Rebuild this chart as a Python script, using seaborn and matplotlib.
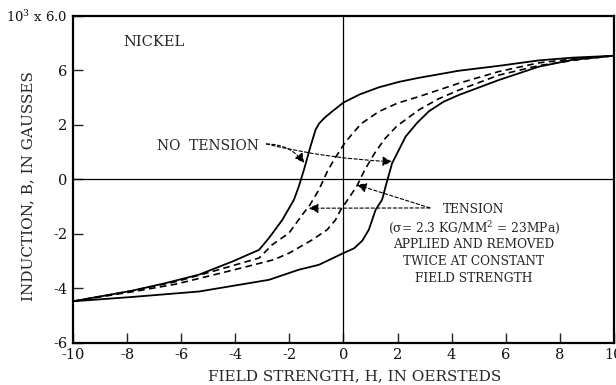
import matplotlib
matplotlib.use("Agg")
import matplotlib.pyplot as plt
import seaborn as sns

# --- digitised hysteresis loops for nickel (H in oersteds, B in axis units) ---
# outer loop, descending branch (solid)
h_outer_down = [-10, -7.81, -6.57, -5.34, -4.11, -3.12, -2.75, -2.26, -1.83, -1.65,
                -1.46, -1.20, -1.03, -0.90, -0.70, -0.41, 0, 0.6, 1.31, 2.05,
                2.79, 4.27, 5.75, 7.23, 8.46, 10]
b_outer_down = [-4.48, -4.09, -3.81, -3.50, -3.02, -2.59, -2.15, -1.49, -0.75, -0.26,
                0.35, 1.27, 1.82, 2.05, 2.26, 2.50, 2.82, 3.12, 3.38, 3.58,
                3.73, 3.99, 4.17, 4.37, 4.47, 4.54]

# outer loop, ascending branch (solid)
h_outer_up = [-10, -7.81, -5.34, -2.75, -1.65, -0.91, 0, 0.40, 0.70, 0.94, 1.19,
              1.43, 1.56, 1.80, 2.30, 2.72, 3.16, 3.70, 4.27, 5.75, 7.23, 8.46, 10]
b_outer_up = [-4.48, -4.32, -4.12, -3.69, -3.32, -3.14, -2.71, -2.53, -2.25, -1.85, -1.12,
              -0.75, -0.26, 0.59, 1.57, 2.07, 2.50, 2.85, 3.10, 3.65, 4.14, 4.39, 4.54]

# tension applied / removed (dashed)
h_tension_1 = [-10, -7.81, -6.20, -4.97, -3.12, -2.63, -2.01, -1.52, -1.24, -0.91,
               -0.60, -0.35, 0.08, 0.65, 1.31, 2.00, 2.79, 4.27, 5.75, 7.23, 8.71, 10]
b_tension_1 = [-4.48, -4.09, -3.76, -3.42, -2.89, -2.40, -1.97, -1.30, -0.94, -0.39,
               0.28, 0.72, 1.38, 2.04, 2.49, 2.80, 3.04, 3.53, 3.96, 4.28, 4.45, 4.54]

h_tension_2 = [-10, -7.81, -6.20, -4.11, -2.57, -2.01, -1.15, -0.60, -0.30, -0.10, 0.28,
               0.50, 0.79, 1.16, 1.53, 1.98, 2.79, 3.50, 4.27, 5.75, 7.23, 8.71, 10]
b_tension_2 = [-4.48, -4.13, -3.85, -3.34, -2.95, -2.71, -2.22, -1.85, -1.50, -1.12, -0.57,
               -0.24, 0.35, 0.97, 1.49, 1.96, 2.55, 2.95, 3.28, 3.83, 4.18, 4.40, 4.54]

x_ticks = [-10, -8, -6, -4, -2, 0, 2, 4, 6, 8, 10]
y_ticks = [-6, -4, -2, 0, 2, 4, 6]
y_tick_labels = ["-6", "-4", "-2", "0", "2", "6", "10$^3$ x 6.0"]

sns.set_style("ticks")
plt.rcParams["font.family"] = ["DejaVu Serif"]
plt.rcParams["mathtext.fontset"] = "dejavuserif"
plt.rcParams["axes.unicode_minus"] = False

fig = plt.figure(figsize=(6.16, 3.85), dpi=100)
ax = fig.add_axes([0.1185, 0.1099, 0.878, 0.8485])

dash = (0, (4, 2.6))
sns.lineplot(x=h_outer_down, y=b_outer_down, sort=False, estimator=None,
             color="black", lw=1.3, ax=ax)
sns.lineplot(x=h_outer_up, y=b_outer_up, sort=False, estimator=None,
             color="black", lw=1.3, ax=ax)
sns.lineplot(x=h_tension_1, y=b_tension_1, sort=False, estimator=None,
             color="black", lw=1.2, ax=ax, linestyle=dash)
sns.lineplot(x=h_tension_2, y=b_tension_2, sort=False, estimator=None,
             color="black", lw=1.2, ax=ax, linestyle=dash)

ax.axhline(0, color="black", lw=0.9)
ax.axvline(0, color="black", lw=0.9)

ax.set_xlim(-10, 10)
ax.set_ylim(-6, 6)
ax.set_xticks(x_ticks)
ax.set_yticks(y_ticks)
ax.set_yticklabels(y_tick_labels)
ax.tick_params(direction="in", length=7, width=1.0, labelsize=10.5, pad=4,
               colors="#222222", labelcolor="#111111")
ax.get_yticklabels()[-1].set_fontsize(9.5)
for s in ax.spines.values():
    s.set_linewidth(1.6)
    s.set_color("black")

ax.set_xlabel("FIELD STRENGTH, H, IN OERSTEDS", fontsize=11)
ax.set_ylabel("INDUCTION, B, IN GAUSSES", fontsize=11)
ax.xaxis.set_label_coords(0.521, -0.08)
ax.yaxis.set_label_coords(-0.07, 0.48)

ax.text(-8.15, 5.05, "NICKEL", fontsize=10.5, va="center", ha="left")

# annotations
ax.text(-6.89, 1.23, "NO  TENSION", fontsize=10, va="center", ha="left")
arrow_kw = dict(arrowstyle="-|>", color="black", lw=0.8, linestyle=(0, (3, 2)),
                mutation_scale=14, shrinkA=0, shrinkB=0)
ax.annotate("", xy=(-1.45, 0.60), xytext=(-2.85, 1.30),
            arrowprops=dict(connectionstyle="arc3,rad=-0.25", **arrow_kw))
ax.annotate("", xy=(1.80, 0.65), xytext=(-2.85, 1.30),
            arrowprops=dict(connectionstyle="arc3,rad=0.05", **arrow_kw))

ax.annotate("", xy=(-1.28, -1.06), xytext=(3.2, -1.05),
            arrowprops=dict(connectionstyle="arc3,rad=0", **arrow_kw))
ax.annotate("", xy=(0.50, -0.20), xytext=(3.2, -1.05),
            arrowprops=dict(connectionstyle="arc3,rad=0", **arrow_kw))

note_lines = ["TENSION", "(σ= 2.3 KG/MM$^2$ = 23MPa)", "APPLIED AND REMOVED",
              "TWICE AT CONSTANT", "FIELD STRENGTH"]
note_y = [-1.09, -1.77, -2.38, -3.02, -3.65]
for txt, yy in zip(note_lines, note_y):
    ax.text(4.82, yy, txt, fontsize=8.8, ha="center", va="center")

fig.savefig("out.png", dpi=100)
